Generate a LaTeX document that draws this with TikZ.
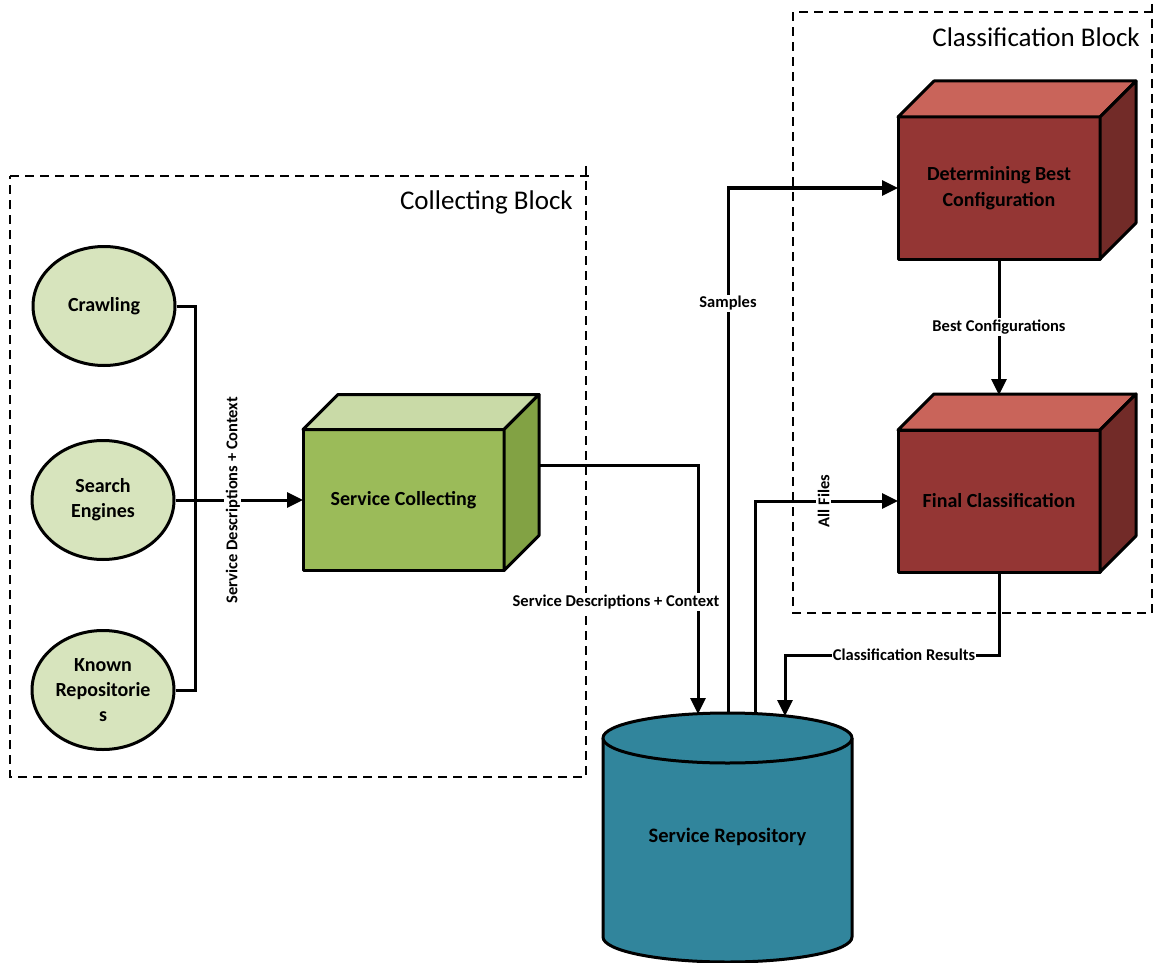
\documentclass[tikz,border=0pt]{standalone}
\usepackage{fontspec}
\setmainfont{Carlito}
\usetikzlibrary{arrows.meta,calc,shapes.geometric}

\definecolor{ellfill}{HTML}{D7E4BD}
\definecolor{greenfront}{HTML}{9BBB59}
\definecolor{greentop}{HTML}{C9DAA7}
\definecolor{greenside}{HTML}{82A244}
\definecolor{redfront}{HTML}{943634}
\definecolor{redtop}{HTML}{C9645A}
\definecolor{redside}{HTML}{722B28}
\definecolor{repoblue}{HTML}{31859C}

\tikzset{
  shapeline/.style={draw=black, line width=3pt, line join=round},
  source/.style={shapeline, ellipse, fill=ellfill, minimum width=142pt, minimum height=119pt,
    inner sep=0pt, align=center, font=\fontsize{20}{25}\selectfont\bfseries},
  cubefront/.style={shapeline, rectangle, outer sep=0pt, align=center,
    font=\fontsize{20}{26}\selectfont\bfseries},
  conn/.style={draw=black, line width=3pt},
  arrowhead/.style={-{Triangle[length=16pt,width=15pt]}},
  lbl/.style={fill=white, inner sep=1.5pt, font=\fontsize{16.5}{18}\selectfont\bfseries},
  blockframe/.style={draw=black, line width=1.3pt, dash pattern=on 9pt off 6pt},
  blocktitle/.style={anchor=east, inner sep=0pt, font=\fontsize{27}{30}\selectfont},
}

% top and right faces of a box whose front face is the node #1
\newcommand\drawcubesides[4]{%
  \draw[shapeline, fill=#2] (#1.north west) -- ++(#4,#4) -- ($(#1.north east)+(#4,#4)$)
    -- (#1.north east) -- cycle;
  \draw[shapeline, fill=#3] (#1.north east) -- ++(#4,#4) -- ($(#1.south east)+(#4,#4)$)
    -- (#1.south east) -- cycle;
}

\begin{document}
\begin{tikzpicture}[x=1pt,y=1pt]
\useasboundingbox (0,0) rectangle (1157,-963);

% dashed block frames
\draw[blockframe] (10,-176) -- (590,-176);
\draw[blockframe] (586,-166) -- (586,-777) -- (10,-777) -- (10,-176);
\draw[blockframe] (1152,-4) -- (1152,-613) -- (793,-613) -- (793,-12) -- (1152,-12);
\node[blocktitle] (ctitle) at (573,-202) {Collecting Block};
\node[blocktitle] (ktitle) at (1140,-37) {Classification Block};

% sources
\node[source] (crawl)  at (104,-306) {Crawling};
\node[source] (search) at (103,-500) {Search\\Engines};
\node[source] (known)  at (103,-690) {Known\\Repositorie\\s};

% collecting box
\node[cubefront, fill=greenfront, minimum width=201pt, minimum height=141pt]
  (collect) at (403.5,-500) {Service Collecting};
\drawcubesides{collect}{greentop}{greenside}{35}

% classification boxes
\node[cubefront, fill=redfront, minimum width=202pt, minimum height=142pt]
  (best) at (999,-188) {Determining Best\\Configuration};
\drawcubesides{best}{redtop}{redside}{36}
\node[cubefront, fill=redfront, minimum width=202pt, minimum height=142pt]
  (final) at (999,-501) {Final Classification};
\drawcubesides{final}{redtop}{redside}{36}

% repository cylinder
\fill[repoblue] (603,-738) -- (603,-937) arc[start angle=180, end angle=360, x radius=124.5, y radius=25]
  -- (852,-738) -- cycle;
\draw[shapeline] (603,-738) -- (603,-937) arc[start angle=180, end angle=360, x radius=124.5, y radius=25]
  -- (852,-738);
\draw[shapeline, fill=repoblue] (727.5,-738) ellipse [x radius=124.5, y radius=25];
\node[font=\fontsize{20.5}{25}\selectfont\bfseries] (repo) at (727.5,-837) {Service Repository};

% connection points
\coordinate (bustop) at (195,-306);
\coordinate (busbot) at (195,-690);
\coordinate (collectout) at (539,-465);
\coordinate (repoin)  at (698,-714);
\coordinate (reposmp) at (728,-713);
\coordinate (repoall) at (755,-714);
\coordinate (reporesult) at (785,-716);
\coordinate (finaltop) at ($(final.north)+(0,35)$);

% connectors
\draw[conn] (crawl.east) -- (bustop) -- (busbot) -- (known.east);
\draw[conn, arrowhead] (search.east) -- (collect.west)
  node[lbl, pos=0.45, rotate=90] {Service Descriptions + Context};
\draw[conn, arrowhead] (collectout) -| (repoin)
  node[lbl, pos=0.775, xshift=-82pt] {Service Descriptions + Context};
\draw[conn, arrowhead] (reposmp) |- (best.west)
  node[lbl, pos=0.39] {Samples};
\draw[conn, arrowhead] (repoall) |- (final.west)
  node[lbl, pos=0.74, rotate=90] {All Files};
\draw[conn, arrowhead] (best.south) -- (finaltop)
  node[lbl, pos=0.5] {Best Configurations};
\draw[conn, arrowhead] (final.south) -- ++(0,-83) -| (reporesult)
  node[lbl, pos=0.222, inner sep=0.5pt] {Classification Results};
\end{tikzpicture}
\end{document}
